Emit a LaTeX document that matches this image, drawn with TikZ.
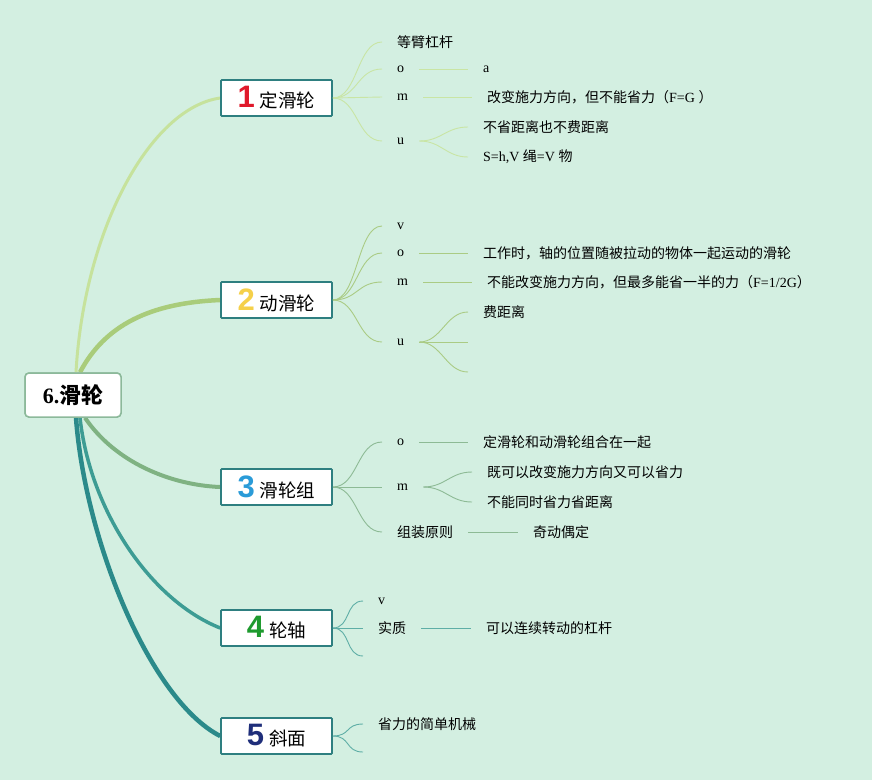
\documentclass[tikz,border=0pt]{standalone}
\usepackage{fontspec}
\setmainfont{Liberation Serif}
\newfontfamily\cjk{Noto Sans CJK SC}
\newfontfamily\numfont{Liberation Sans Bold}
\usetikzlibrary{calc}
\definecolor{bg}{HTML}{D3EFE1}
\definecolor{rootborder}{HTML}{8CB99A}
\definecolor{boxborder}{HTML}{2E7F80}
\definecolor{mc1}{HTML}{C6E29C}
\definecolor{mc2}{HTML}{A9CC7A}
\definecolor{mc3}{HTML}{7FB282}
\definecolor{mc4}{HTML}{3D9C94}
\definecolor{mc5}{HTML}{2B8A8A}
\definecolor{sc1}{HTML}{C9E5A4}
\definecolor{sc2}{HTML}{AACB84}
\definecolor{sc3}{HTML}{8DBA95}
\definecolor{sc4}{HTML}{5EAEA6}
\definecolor{sc5}{HTML}{5EAEA6}
\definecolor{n1}{HTML}{E0192B}
\definecolor{n2}{HTML}{F5D04A}
\definecolor{n3}{HTML}{2A9BD8}
\definecolor{n4}{HTML}{1E9A2E}
\definecolor{n5}{HTML}{1F2E7A}
\newcommand\zh[1]{{\cjk #1}}
\newcommand\boxlabel[3]{{\numfont\fontsize{31}{31}\selectfont\color{#1}#2}\hspace{5pt}{\cjk\fontsize{18.5}{20}\selectfont #3}}
\newcommand\roottext{\bfseries\fontsize{22}{24}\selectfont 6.{\cjk\bfseries 滑轮}}
\begin{document}
\begin{tikzpicture}[x=1pt,y=-1pt,
  rootbox/.style={draw=rootborder, line width=1.5pt, fill=white, rounded corners=4pt,
    minimum width=96pt, minimum height=44pt, inner sep=0pt},
  mainbox/.style={draw=boxborder, line width=1.6pt, fill=white, rounded corners=1pt,
    minimum width=111pt, minimum height=36pt, inner sep=0pt},
  leaf/.style={anchor=west, inner xsep=15pt, inner ysep=2pt, font=\fontsize{14}{16}\selectfont},
  sub/.style={line width=0.9pt, #1}
]
\fill[bg] (0,0) rectangle (872,780);
\useasboundingbox (0,0) rectangle (872,780);

% root and main boxes (placed first for their anchors)
\node[rootbox] (root) at (73,395) {\roottext};
\node[mainbox] (b1) at (276.5,98) {\boxlabel{n1}{1}{定滑轮}};
\node[mainbox] (b2) at (276.5,300) {\boxlabel{n2}{2}{动滑轮}};
\node[mainbox] (b3) at (276.5,487) {\boxlabel{n3}{3}{滑轮组}};
\node[mainbox] (b4) at (276.5,628) {\boxlabel{n4}{4}{轮轴}};
\node[mainbox] (b5) at (276.5,736) {\boxlabel{n5}{5}{斜面}};

% main connectors
\draw[mc1, line width=3pt] ($(root.north)+(3,0)$) .. controls (84,230) and (150,108) .. (b1.west);
\draw[mc2, line width=4.5pt] ($(root.north)+(7,0)$) .. controls (105,325) and (150,303) .. (b2.west);
\draw[mc3, line width=4pt] ($(root.south)+(12,0)$) .. controls (115,462) and (170,485) .. (b3.west);
\draw[mc4, line width=3.5pt] ($(root.south)+(7,0)$) .. controls (90,510) and (150,600) .. (b4.west);
\draw[mc5, line width=4.5pt] ($(root.south)+(3,0)$) .. controls (85,540) and (150,700) .. (b5.west);

% redraw boxes on top of the connectors
\node[rootbox] at (root) {\roottext};
\node[mainbox] at (b1) {\boxlabel{n1}{1}{定滑轮}};
\node[mainbox] at (b2) {\boxlabel{n2}{2}{动滑轮}};
\node[mainbox] at (b3) {\boxlabel{n3}{3}{滑轮组}};
\node[mainbox] at (b4) {\boxlabel{n4}{4}{轮轴}};
\node[mainbox] at (b5) {\boxlabel{n5}{5}{斜面}};

% ---------- branch 1 ----------
\node[leaf] (l1a) at (382,42) {\zh{等臂杠杆}};
\node[leaf] (l1o) at (382,69) {o};
\node[leaf] (l1m) at (382,97) {m};
\node[leaf] (l1u) at (382,141) {u};
\node[leaf] (l1ot) at (468,69) {a};
\node[leaf] (l1mt) at (472,97) {\zh{改变施力方向，但不能省力（}F=G \zh{）}};
\node[leaf] (l1u1) at (468,127) {\zh{不省距离也不费距离}};
\node[leaf] (l1u2) at (468,157) {S=h,V \zh{绳}=V \zh{物}};
\foreach \t in {l1a,l1o,l1m,l1u}
  \draw[sub=sc1] (b1.east) .. controls +(25,0) and +(-25,0) .. (\t.west);
\draw[sub=sc1] (l1o.east) -- (l1ot.west);
\draw[sub=sc1] (l1m.east) -- (l1mt.west);
\foreach \t in {l1u1,l1u2}
  \draw[sub=sc1] (l1u.east) .. controls +(22,0) and +(-22,0) .. (\t.west);

% ---------- branch 2 ----------
\node[leaf] (l2v) at (382,226) {v};
\node[leaf] (l2o) at (382,253) {o};
\node[leaf] (l2m) at (382,282) {m};
\node[leaf] (l2u) at (382,342) {u};
\node[leaf] (l2ot) at (468,253) {\zh{工作时，轴的位置随被拉动的物体一起运动的滑轮}};
\node[leaf] (l2mt) at (472,282) {\zh{不能改变施力方向，但最多能省一半的力（}F=1/2G\zh{）}};
\node[leaf] (l2u1) at (468,312) {\zh{费距离}};
\coordinate (l2u2) at (468,342);
\coordinate (l2u3) at (468,372);
\foreach \t in {l2v,l2o,l2m,l2u}
  \draw[sub=sc2] (b2.east) .. controls +(25,0) and +(-25,0) .. (\t.west);
\draw[sub=sc2] (l2o.east) -- (l2ot.west);
\draw[sub=sc2] (l2m.east) -- (l2mt.west);
\draw[sub=sc2] (l2u.east) .. controls +(22,0) and +(-22,0) .. (l2u1.west);
\draw[sub=sc2] (l2u.east) -- (l2u2);
\draw[sub=sc2] (l2u.east) .. controls +(22,0) and +(-22,0) .. (l2u3);

% ---------- branch 3 ----------
\node[leaf] (l3o) at (382,442) {o};
\node[leaf] (l3m) at (382,487) {m};
\node[leaf] (l3z) at (382,532) {\zh{组装原则}};
\node[leaf] (l3ot) at (468,442) {\zh{定滑轮和动滑轮组合在一起}};
\node[leaf] (l3m1) at (472,472) {\zh{既可以改变施力方向又可以省力}};
\node[leaf] (l3m2) at (472,502) {\zh{不能同时省力省距离}};
\node[leaf] (l3zt) at (518,532) {\zh{奇动偶定}};
\foreach \t in {l3o,l3m,l3z}
  \draw[sub=sc3] (b3.east) .. controls +(25,0) and +(-25,0) .. (\t.west);
\draw[sub=sc3] (l3o.east) -- (l3ot.west);
\foreach \t in {l3m1,l3m2}
  \draw[sub=sc3] (l3m.east) .. controls +(22,0) and +(-22,0) .. (\t.west);
\draw[sub=sc3] (l3z.east) -- (l3zt.west);

% ---------- branch 4 ----------
\node[leaf] (l4v) at (363,601) {v};
\node[leaf] (l4s) at (363,628) {\zh{实质}};
\coordinate (l4e) at (363,656);
\node[leaf] (l4st) at (471,628) {\zh{可以连续转动的杠杆}};
\foreach \t in {l4v,l4s}
  \draw[sub=sc4] (b4.east) .. controls +(18,0) and +(-18,0) .. (\t.west);
\draw[sub=sc4] (b4.east) .. controls +(18,0) and +(-18,0) .. (l4e);
\draw[sub=sc4] (l4s.east) -- (l4st.west);

% ---------- branch 5 ----------
\node[leaf] (l5a) at (363,724) {\zh{省力的简单机械}};
\coordinate (l5e) at (363,752);
\draw[sub=sc5] (b5.east) .. controls +(18,0) and +(-18,0) .. (l5a.west);
\draw[sub=sc5] (b5.east) .. controls +(18,0) and +(-18,0) .. (l5e);
\end{tikzpicture}
\end{document}
